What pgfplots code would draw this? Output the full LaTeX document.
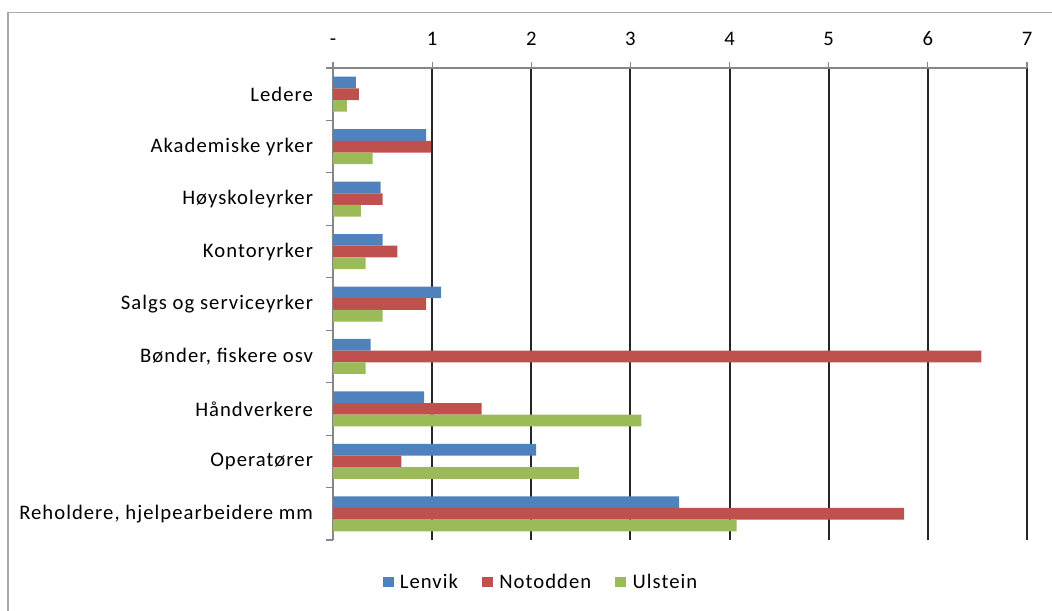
\documentclass[border=0pt]{standalone}
\usepackage{pgfplots}
\pgfplotsset{compat=1.18}
\usepackage{fontspec}
\setmainfont{Carlito}[LetterSpace=5]

\definecolor{lenvik}{HTML}{4F81BD}
\definecolor{notodden}{HTML}{C0504D}
\definecolor{ulstein}{HTML}{9BBB59}
\definecolor{axgray}{HTML}{868686}
\newcommand{\lbl}{\fontsize{15.5pt}{18pt}\selectfont}

\begin{document}
\begin{tikzpicture}
\useasboundingbox (0,0) rectangle (789pt,-457.5pt);
% outer chart frame (only left and top edges visible)
\draw[axgray!70, line width=0.9pt] (6pt,-470pt) -- (6pt,-9.4pt) -- (800pt,-9.4pt);
\begin{axis}[
    at={(249.75pt,-405pt)}, anchor=south west,
    scale only axis,
    width=520.5pt, height=354pt,
    xbar, bar width=8.75pt,
    xmin=0, xmax=7,
    ymin=-0.5, ymax=8.5,
    axis x line*=top, axis y line*=left,
    axis line style={axgray, line width=0.8pt},
    tick align=outside,
    tick style={axgray, line width=0.8pt},
    xtick={1,...,7},
    xticklabels={1,2,3,4,5,6,7},
    extra x ticks={0},
    extra x tick labels={-},
    extra x tick style={grid=none},
    major tick length=4.5pt,
    xmajorgrids,
    grid style={black!85, line width=1.5pt},
    ytick={0,...,8},
    yticklabels={{Reholdere, hjelpearbeidere mm},Operatører,Håndverkere,{Bønder, fiskere osv},Salgs og serviceyrker,Kontoryrker,Høyskoleyrker,Akademiske yrker,Ledere},
    minor ytick={-0.5,0.5,...,8.5},
    minor tick length=5.25pt,
    major y tick style={draw=none},
    tick label style={font=\lbl},
    y tick label style={anchor=east, xshift=-7pt},
    x tick label style={yshift=9pt},
    legend style={at={(0.3,0)}, anchor=center, yshift=-31.5pt, draw=none,
        font=\lbl, legend columns=3,
        /tikz/every even column/.append style={column sep=16pt}},
    sq/.style={legend image code/.code={\fill[##1] (0pt,-4.1pt) rectangle (8.25pt,4.1pt); \path (11pt,0pt);}},
]
\addplot[fill=lenvik, draw=none, bar shift=8.75pt, sq] coordinates {
(0.23,8) (0.94,7) (0.48,6) (0.50,5) (1.09,4) (0.38,3) (0.92,2) (2.05,1) (3.49,0)
};
\addplot[fill=notodden, draw=none, bar shift=0pt, sq] coordinates {
(0.26,8) (0.99,7) (0.50,6) (0.65,5) (0.94,4) (6.54,3) (1.50,2) (0.69,1) (5.76,0)
};
\addplot[fill=ulstein, draw=none, bar shift=-8.75pt, sq] coordinates {
(0.14,8) (0.40,7) (0.28,6) (0.33,5) (0.50,4) (0.33,3) (3.11,2) (2.48,1) (4.07,0)
};
\legend{Lenvik,Notodden,Ulstein}
\end{axis}
\end{tikzpicture}
\end{document}
